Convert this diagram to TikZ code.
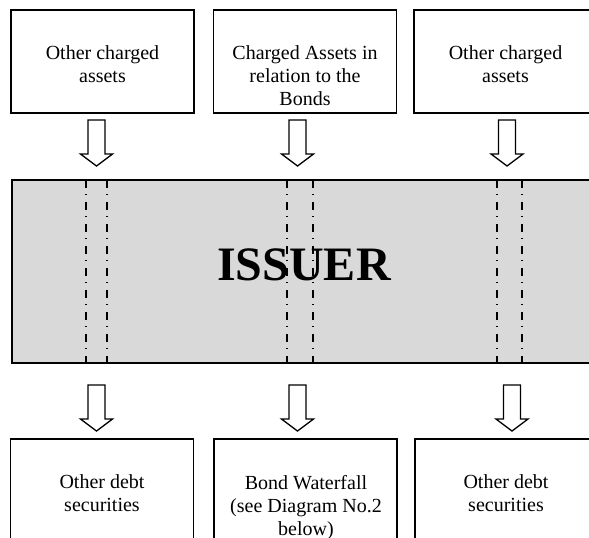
\documentclass[tikz,border=0pt]{standalone}
\usepackage{fontspec}
\setmainfont{Liberation Serif}
\definecolor{issuergray}{HTML}{D9D9D9}
\begin{document}
\begin{tikzpicture}[x=1pt,y=-1pt,
  box/.style={draw,line width=1.6pt,inner sep=0pt,outer sep=0pt,minimum width=183pt},
  lbl/.style={font=\fontsize{20}{23}\selectfont,align=center,inner sep=0pt,anchor=north},
  dashdotline/.style={line width=1.3pt,dash pattern=on 8pt off 6pt on 1.2pt off 6.8pt},
  arrowline/.style={draw,fill=white,line width=1.3pt,line join=miter},
  blockarrow/.pic={\draw[arrowline] (-8.5,0) -- (8.5,0) -- (8.5,34) -- (16,34) -- (0,46) -- (-16,34) -- (-8.5,34) -- cycle;}]
\useasboundingbox (0,0) rectangle (589,538);
\clip (0,0) rectangle (589,538);
% top boxes
\node[box,minimum height=103pt] (t1) at (102.5,61.5) {};
\node[box,minimum height=103pt] (t2) at (305,61.5) {};
\node[box,minimum height=103pt] (t3) at (505.5,61.5) {};
\node[lbl] (t1text) at (102.5,45.3) {Other charged\\assets};
\node[lbl] (t2text) at (305,45.3) {Charged Assets in\\relation to the\\Bonds};
\node[lbl] (t3text) at (505.5,45.3) {Other charged\\assets};
% issuer
\node[box,fill=issuergray,minimum width=588pt,minimum height=183pt] (issuer) at (306,271.5) {};
\foreach \x in {86,107,287,313,497,522}{
  \draw[dashdotline] (\x,180) -- (\x,363);
}
\node[font=\bfseries\fontsize{48}{52}\selectfont,anchor=base,inner sep=0pt] (issuertext) at (304,280) {ISSUER};
% top arrows
\pic at (96.5,120) {blockarrow};
\pic at (297.5,120) {blockarrow};
\pic at (507,120) {blockarrow};
% bottom arrows
\pic at (96.5,385) {blockarrow};
\pic at (297.5,385) {blockarrow};
\pic at (512,385) {blockarrow};
% bottom boxes
\node[box,minimum height=130pt] (b1) at (102,504) {};
\node[box,minimum height=130pt] (b2) at (305.5,504) {};
\node[box,minimum height=130pt] (b3) at (506.5,504) {};
\node[lbl] (b1text) at (102,474.3) {Other debt\\securities};
\node[lbl] (b2text) at (306,475.3) {Bond Waterfall\\(see Diagram No.2\\below)};
\node[lbl] (b3text) at (506,474.3) {Other debt\\securities};
\end{tikzpicture}
\end{document}
